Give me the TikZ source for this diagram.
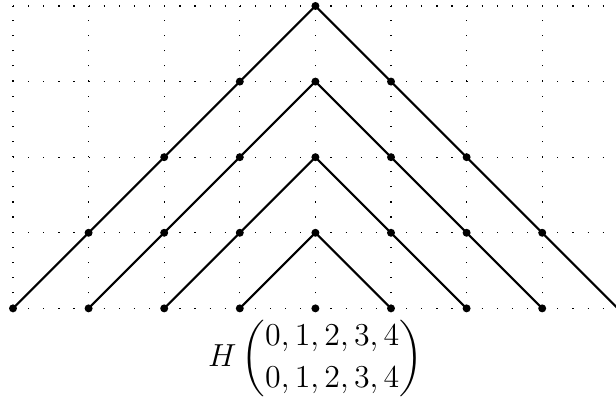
\documentclass[tikz,border=0pt]{standalone}
\usepackage{amsmath}
\begin{document}
\begin{tikzpicture}[x=1cm,y=1cm,
  gridline/.style={line width=0.45pt,dash pattern=on 0.45pt off 5.24pt,line cap=butt},
  pathline/.style={line width=0.8pt},
  dotmark/.style={circle,fill=black,inner sep=0pt,minimum size=3pt}]
\useasboundingbox (-0.172,-1.243) rectangle (7.976,4.079);
\draw[gridline] (0,0) grid (8,4);
% named vertices
\foreach \x/\y in {0/0,1/0,2/0,3/0,4/0,5/0,6/0,7/0,8/0,1/1,2/1,3/1,4/1,5/1,6/1,7/1,2/2,3/2,4/2,5/2,6/2,3/3,4/3,5/3,4/4}
  \coordinate (v\x\y) at (\x,\y);
\draw[pathline] (v00) -- (v44) -- (v80);
\draw[pathline] (v10) -- (v43) -- (v70);
\draw[pathline] (v20) -- (v42) -- (v60);
\draw[pathline] (v30) -- (v41) -- (v50);
\foreach \x/\y in {0/0,1/0,2/0,3/0,4/0,5/0,6/0,7/0,1/1,2/1,3/1,4/1,5/1,6/1,7/1,2/2,3/2,4/2,5/2,6/2,3/3,4/3,5/3,4/4}
  \node[dotmark] (d\x\y) at (v\x\y) {};
\node[font=\fontsize{12.9}{15.5}\selectfont] (label) at (4,-0.66) {$H\begin{pmatrix}0,1,2,3,4\\0,1,2,3,4\end{pmatrix}$};
\end{tikzpicture}
\end{document}
